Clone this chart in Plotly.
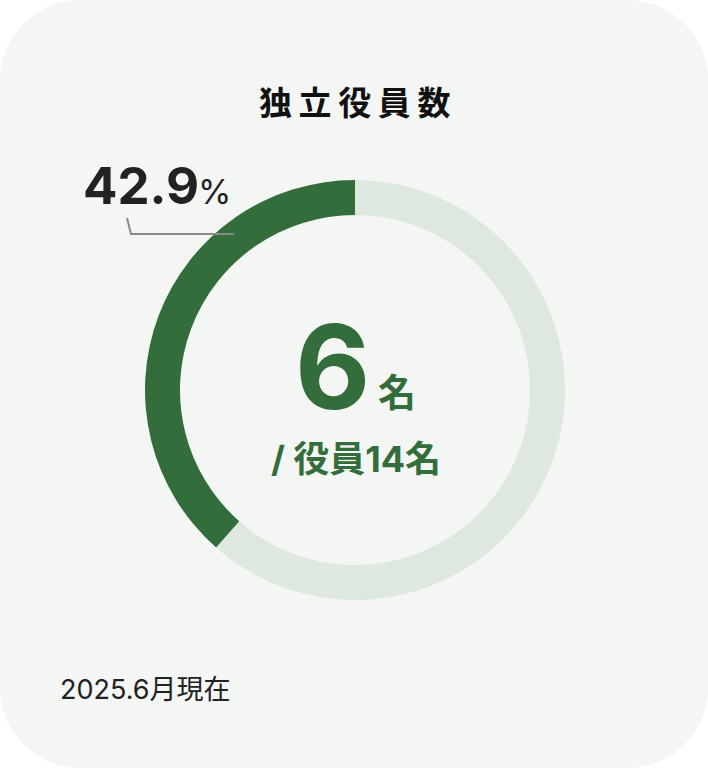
import plotly.graph_objects as go

# Data
independent = 6          # 独立役員
total_officers = 14      # 役員総数
pct_label = "42.9"       # label printed on the chart
# ring shares as drawn in the reference (green arc ends at ~138.5° from 12 o'clock)
ring_labels = ["その他の役員", "独立役員"]
ring_values = [61.5, 38.5]
title_text = "独立役員数"
note_text = "2025.6月現在"

W, H = 708, 770

GREEN = "#336d3b"
LIGHT = "#dfe8df"
PANEL = "#f4f6f3"


def px(x):
    return x / W


def py(y):
    return 1 - y / H


fig = go.Figure()

# donut
cx, cy, R = 355, 390, 210
fig.add_trace(go.Pie(
    labels=ring_labels,
    values=ring_values,
    hole=175 / 210,
    sort=False,
    direction="clockwise",
    rotation=0,
    marker=dict(colors=[LIGHT, GREEN], line=dict(width=0)),
    textinfo="none",
    hoverinfo="label",
    showlegend=False,
    domain=dict(x=[px(cx - R), px(cx + R)], y=[py(cy + R), py(cy - R)]),
))

# rounded panel background
r = 80
x0, x1, y0, y1 = 0, 708, 0, 768
k = 0.45
path = (
    f"M {px(x0 + r)},{py(y0)} L {px(x1 - r)},{py(y0)} "
    f"C {px(x1 - r * k)},{py(y0)} {px(x1)},{py(y0 + r * k)} {px(x1)},{py(y0 + r)} "
    f"L {px(x1)},{py(y1 - r)} "
    f"C {px(x1)},{py(y1 - r * k)} {px(x1 - r * k)},{py(y1)} {px(x1 - r)},{py(y1)} "
    f"L {px(x0 + r)},{py(y1)} "
    f"C {px(x0 + r * k)},{py(y1)} {px(x0)},{py(y1 - r * k)} {px(x0)},{py(y1 - r)} "
    f"L {px(x0)},{py(y0 + r)} "
    f"C {px(x0)},{py(y0 + r * k)} {px(x0 + r * k)},{py(y0)} {px(x0 + r)},{py(y0)} Z"
)
shapes = [
    dict(type="path", xref="paper", yref="paper", path=path,
         fillcolor=PANEL, line=dict(width=0), layer="below"),
    # leader line
    dict(type="path", xref="paper", yref="paper",
         path=f"M {px(127)},{py(218)} L {px(131)},{py(234)} L {px(234)},{py(234)}",
         line=dict(color="#8a8a8a", width=2)),
]

JP = "Noto Sans CJK JP"
NUM = "Inter"


def num(s):
    return f'<span style="font-family:{NUM}">{s}</span>'


annotations = [
    dict(text="<b>" + "\u2009".join(title_text) + "</b>", x=px(355), y=py(101),
         xanchor="center", yanchor="middle",
         font=dict(family=JP, size=33, color="#111111")),
    dict(text=f"<b>{pct_label}</b>", x=px(81), y=py(185),
         xanchor="left", yanchor="middle",
         font=dict(family=NUM, size=51, color="#222222")),
    dict(text="%", x=px(196), y=py(192), xanchor="left", yanchor="middle",
         font=dict(family=NUM, size=34, color="#222222")),
    dict(text=f"<b>{independent}</b>", x=px(332), y=py(367),
         xanchor="center", yanchor="middle", height=104,
         font=dict(family=NUM, size=116, color=GREEN)),
    dict(text="<b>名</b>", x=px(397), y=py(389),
         xanchor="center", yanchor="middle",
         font=dict(family=JP, size=38, color=GREEN)),
    dict(text=f"<b>{num('/')} 役員{num(total_officers)}名</b>", x=px(356), y=py(456),
         xanchor="center", yanchor="middle",
         font=dict(family=JP, size=36, color=GREEN)),
    dict(text=f"{num('2025.6')}月現在", x=px(58), y=py(687), xanchor="left", yanchor="middle",
         font=dict(family=JP, size=27, color="#222222")),
]

for a in annotations:
    a.update(xref="paper", yref="paper", showarrow=False)

fig.update_layout(
    width=W, height=H,
    margin=dict(l=0, r=0, t=0, b=0),
    paper_bgcolor="white",
    plot_bgcolor="white",
    shapes=shapes,
    annotations=annotations,
)

fig.write_html("out.html", config={"displayModeBar": False},
               post_script="document.body.style.margin='0';")
